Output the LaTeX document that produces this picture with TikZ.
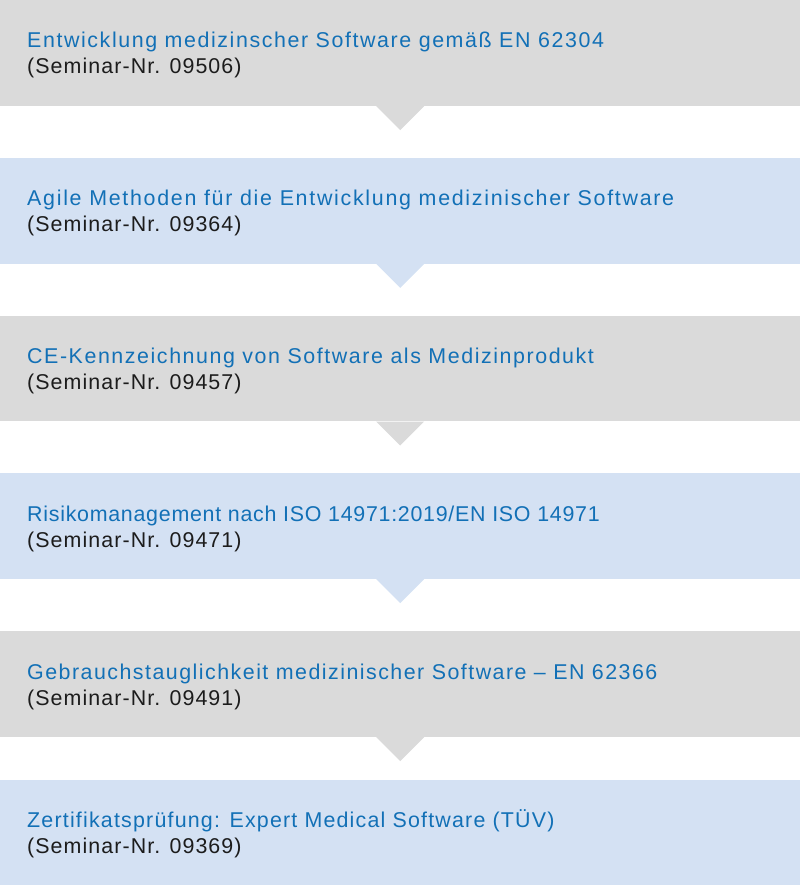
\documentclass[tikz,border=0pt]{standalone}
\usepackage{fontspec}
\setmainfont[LetterSpace=5]{Liberation Sans}
\usepackage[x11names,rgb]{xcolor}
\usepackage{tikz}
\usetikzlibrary{positioning}
\definecolor{grau}{HTML}{DADADA}
\definecolor{hellblau}{HTML}{D4E1F3}
\definecolor{titelblau}{HTML}{1270B6}
\definecolor{nummer}{HTML}{1C1C1C}
\newcommand{\sperrung}[1]{\addfontfeature{LetterSpace=#1}}
\tikzset{
  kasten/.style={rectangle,anchor=north west,inner sep=0pt,minimum width=800pt,minimum height=105.7pt},
  titel/.style={anchor=base west,inner sep=0pt,text=titelblau,font=\fontsize{21.4}{26}\selectfont},
  nummer/.style={anchor=base west,inner sep=0pt,text=nummer,font=\fontsize{21.4}{26}\selectfont}
}

\begin{document}
\begin{tikzpicture}[x=1pt,y=-1pt,line join=round]
\useasboundingbox (0,0) rectangle (800,885);
\node[kasten,fill=grau] (k1) at (0,0) {};
\node[kasten,fill=hellblau] (k2) at (0,157.7) {};
\node[kasten,fill=grau] (k3) at (0,315.4) {};
\node[kasten,fill=hellblau] (k4) at (0,473.1) {};
\node[kasten,fill=grau] (k5) at (0,631) {};
\node[kasten,fill=hellblau,minimum height=105pt] (k6) at (0,780) {};
\fill[grau] ([xshift=-24pt]k1.south)--([xshift=24pt]k1.south)--([yshift=-24pt]k1.south)--cycle;
\fill[hellblau] ([xshift=-24pt]k2.south)--([xshift=24pt]k2.south)--([yshift=-24pt]k2.south)--cycle;
\fill[grau] ([xshift=-24pt]k3.south)--([xshift=24pt]k3.south)--([yshift=-24pt]k3.south)--cycle;
\fill[hellblau] ([xshift=-24pt]k4.south)--([xshift=24pt]k4.south)--([yshift=-24pt]k4.south)--cycle;
\fill[grau] ([xshift=-24pt]k5.south)--([xshift=24pt]k5.south)--([yshift=-24pt]k5.south)--cycle;
\node[titel] (t1) at ([shift={(27,48)}]k1.north west) {\sperrung{7.4}Entwicklung medizinscher Software gemäß EN 62304};
\node[nummer] (n1) at ([yshift=-26pt]t1.base west) {(Seminar-Nr. 09506)};
\node[titel] (t2) at ([shift={(27,48)}]k2.north west) {\sperrung{8}Agile Methoden für die Entwicklung medizinischer Software};
\node[nummer] (n2) at ([yshift=-26pt]t2.base west) {(Seminar-Nr. 09364)};
\node[titel] (t3) at ([shift={(27,48)}]k3.north west) {\sperrung{7.3}CE-Kennzeichnung von Software als Medizinprodukt};
\node[nummer] (n3) at ([yshift=-26pt]t3.base west) {(Seminar-Nr. 09457)};
\node[titel] (t4) at ([shift={(27,48)}]k4.north west) {\sperrung{3.4}Risikomanagement nach ISO 14971:2019/EN ISO 14971};
\node[nummer] (n4) at ([yshift=-26pt]t4.base west) {(Seminar-Nr. 09471)};
\node[titel] (t5) at ([shift={(27,48)}]k5.north west) {\sperrung{6.9}Gebrauchstauglichkeit medizinischer Software – EN 62366};
\node[nummer] (n5) at ([yshift=-26pt]t5.base west) {(Seminar-Nr. 09491)};
\node[titel] (t6) at ([shift={(27,47)}]k6.north west) {\sperrung{5.6}Zertifikatsprüfung: Expert Medical Software (TÜV)};
\node[nummer] (n6) at ([yshift=-26pt]t6.base west) {(Seminar-Nr. 09369)};
\end{tikzpicture}
\end{document}
